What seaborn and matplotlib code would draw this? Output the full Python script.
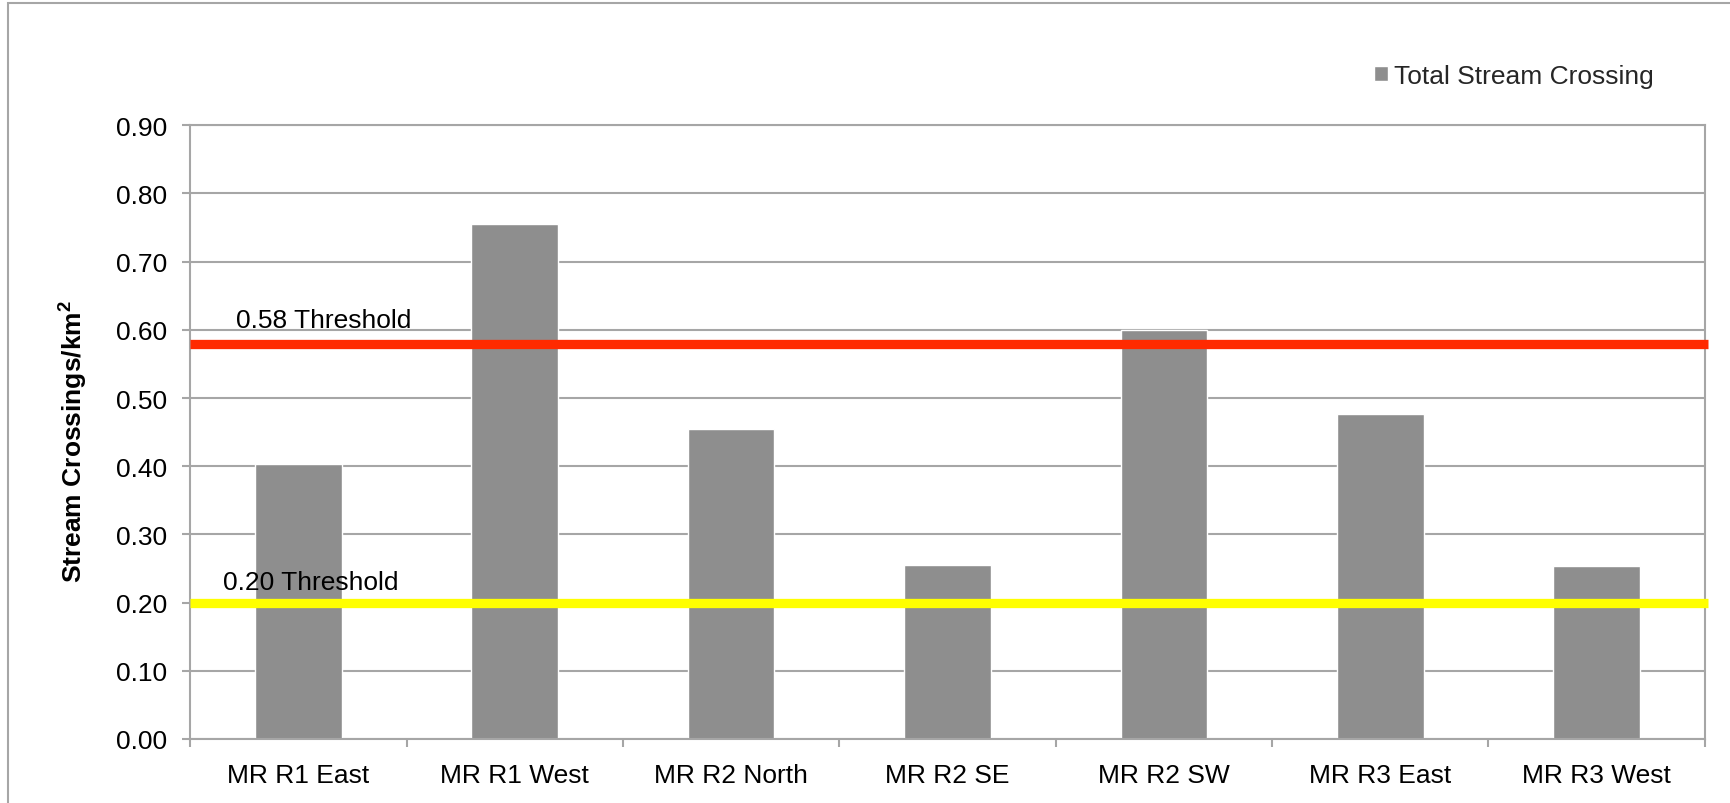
import matplotlib
matplotlib.use("Agg")
import matplotlib.pyplot as plt
import seaborn as sns
from matplotlib.patches import Rectangle

# Stream crossing density per watershed region
regions = ["MR R1 East", "MR R1 West", "MR R2 North", "MR R2 SE",
           "MR R2 SW", "MR R3 East", "MR R3 West"]
crossings = [0.404, 0.755, 0.455, 0.255, 0.600, 0.477, 0.253]
series_name = "Total Stream Crossing"

# Reference thresholds (crossings per km²)
upper_threshold = 0.58
lower_threshold = 0.20

y_ticks = [0.0, 0.1, 0.2, 0.3, 0.4, 0.5, 0.6, 0.7, 0.8, 0.9]

sns.set_theme(style="white")
plt.rcParams["font.family"] = ["Liberation Sans", "DejaVu Sans"]
plt.rcParams["mathtext.fontset"] = "custom"
plt.rcParams["mathtext.rm"] = "Liberation Sans"
plt.rcParams["mathtext.bf"] = "Liberation Sans:bold"

W, H = 1731, 804
fig = plt.figure(figsize=(W / 100, H / 100), dpi=100)
fig.patch.set_facecolor("white")

ax_left, ax_right, ax_top, ax_bottom = 190.2, 1704.8, 126.3, 740.0
ax = fig.add_axes([ax_left / W, 1 - ax_bottom / H,
                   (ax_right - ax_left) / W, (ax_bottom - ax_top) / H])

bar_color = "#8e8e8e"
line_grey = "#a6a6a6"

sns.barplot(x=regions, y=crossings, color=bar_color, saturation=1,
            width=0.4, label=series_name, ax=ax, zorder=2)

# Threshold lines
ax.axhline(upper_threshold, xmin=0, xmax=1.002, color="#ff2a00",
           lw=6.7, zorder=3, clip_on=False, solid_capstyle="butt")
ax.axhline(lower_threshold, xmin=0, xmax=1.002, color="#ffff00",
           lw=6.7, zorder=3, clip_on=False, solid_capstyle="butt")
ax.text(-0.288, upper_threshold + 0.024, f"{upper_threshold:.2f} Threshold",
        fontsize=19, color="black", ha="left", va="baseline", zorder=4)
ax.text(-0.35, lower_threshold + 0.020, f"{lower_threshold:.2f} Threshold",
        fontsize=19, color="black", ha="left", va="baseline", zorder=4)

# Axes limits, ticks and grid
ax.set_xlim(-0.5, len(regions) - 0.5)
ax.set_ylim(0, 0.9)
ax.set_yticks(y_ticks)
ax.set_yticklabels([f"{v:.2f}" for v in y_ticks])
ax.yaxis.grid(True, color=line_grey, lw=1.5, zorder=0)
ax.xaxis.grid(False)
ax.set_axisbelow(True)

ax.set_xticks(range(len(regions)))
ax.set_xticklabels(regions)
ax.set_xticks([i - 0.5 for i in range(len(regions) + 1)], minor=True)
ax.tick_params(axis="x", which="major", length=0, pad=17, labelsize=19,
               labelcolor="black")
ax.tick_params(axis="x", which="minor", length=5.5, width=1.5,
               color=line_grey, direction="out", bottom=True)
ax.tick_params(axis="y", which="major", length=5.8, width=1.5,
               color=line_grey, direction="out", left=True, pad=11,
               labelsize=19, labelcolor="black")

for side in ["left", "right", "top", "bottom"]:
    ax.spines[side].set_visible(True)
    ax.spines[side].set_color(line_grey)
    ax.spines[side].set_linewidth(1.5)

ax.set_xlabel("")
ax.set_ylabel(r"Stream Crossings/km$^{\mathbf{2}}$", fontsize=19,
              fontweight="bold", color="black")
ax.yaxis.set_label_coords((73 - ax_left) / (ax_right - ax_left), 0.487)
ax.yaxis.label.set_va("center")

# Legend above the plot area at the right
ax.legend(loc="center left",
          bbox_to_anchor=(1374 / W, 1 - 77 / H),
          bbox_transform=fig.transFigure, frameon=False, fontsize=19,
          handlelength=0.53, handleheight=0.53, handletextpad=0.22,
          borderpad=0, borderaxespad=0)

# Outer chart frame
fig.add_artist(Rectangle((8 / W, -0.1), 1.2, 1.1 - 4 / H,
                         transform=fig.transFigure, fill=False,
                         edgecolor=line_grey, lw=1.5))

fig.savefig("out.png", dpi=100, facecolor="white")
